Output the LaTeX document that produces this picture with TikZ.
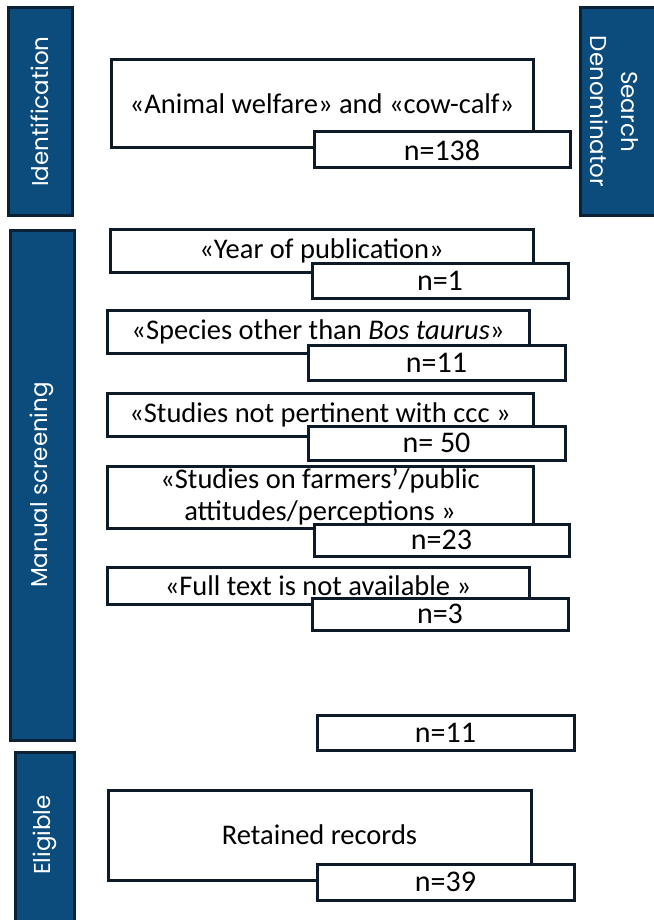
\documentclass[tikz,border=0pt]{standalone}
\usepackage{fontspec}
\setmainfont{Carlito}
\newfontfamily\labelfont{Poppins}
\definecolor{barblue}{HTML}{0B4C7C}
\definecolor{bardark}{HTML}{0B2236}
\definecolor{boxline}{HTML}{0D1A28}
\tikzset{
  bar/.style={draw=bardark, line width=3pt, fill=barblue, inner sep=0pt},
  barlabel/.style={text=white, align=center, inner sep=0pt, font=\labelfont\fontsize{23}{31}\selectfont},
  mainbox/.style={draw=boxline, line width=3pt, fill=white, font=\fontsize{28.5}{32}\selectfont, align=center, inner sep=0pt},
  countbox/.style={draw=boxline, line width=3pt, fill=white, font=\fontsize{30}{34}\selectfont, inner sep=0pt}
}
\begin{document}
\begin{tikzpicture}[x=1pt,y=-1pt]
\useasboundingbox (0,0) rectangle (653,920);
\fill[white] (0,0) rectangle (653,920);
% side bars
\node[bar, minimum width=64pt, minimum height=207pt] (id) at (40,111.5) {};
\node[barlabel, rotate=90] (idt) at (id.center) {Identification};
\node[bar, minimum width=76pt, minimum height=207pt] (sd) at (618,111.5) {};
\node[barlabel, rotate=-90] (sdt) at (614,111.5) {Search\\Denominator};
\node[bar, minimum width=64pt, minimum height=510pt] (ms) at (42,485) {};
\node[barlabel, rotate=90] (mst) at (ms.center) {Manual screening};
\node[bar, minimum width=59pt, minimum height=176pt] (el) at (44.5,840) {};
\node[barlabel, rotate=90] (elt) at (44.5,835) {Eligible};
% boxes
\node[mainbox, minimum width=422pt, minimum height=88pt] (b1) at (322,104) {«Animal welfare» and «cow-calf»};
\node[countbox, minimum width=256pt, minimum height=36pt] (n1) at (442,150) {n=138};
\node[mainbox, minimum width=423pt, minimum height=43pt] (b2) at (321.5,250.5) {«Year of publication»};
\node[countbox, minimum width=256pt, minimum height=35pt] (n2) at (440,280.5) {n=1};
\node[mainbox, minimum width=422pt, minimum height=43pt] (b3) at (318,331.5) {«Species other than \textit{Bos taurus}»};
\node[countbox, minimum width=257pt, minimum height=35pt] (n3) at (436.5,362.5) {n=11};
\node[mainbox, minimum width=426pt, minimum height=43pt] (b4) at (320,414.5) {«Studies not pertinent with ccc »};
\node[countbox, minimum width=257pt, minimum height=34pt] (n4) at (436.5,443) {n= 50};
\node[mainbox, minimum width=426pt, minimum height=62pt] (b5) at (320,497) {«Studies on farmers’/public\\attitudes/perceptions »};
\node[countbox, minimum width=255pt, minimum height=32pt] (n5) at (441.5,540) {n=23};
\node[mainbox, minimum width=422pt, minimum height=37pt] (b6) at (318,585.5) {«Full text is not available »};
\node[countbox, minimum width=256pt, minimum height=32pt] (n6) at (440,614) {n=3};
\node[countbox, minimum width=257pt, minimum height=35pt] (n7) at (445.5,732.5) {n=11};
\node[mainbox, minimum width=423pt, minimum height=90pt] (b8) at (319.5,835) {Retained records};
\node[countbox, minimum width=257pt, minimum height=36pt] (n8) at (445.5,882) {n=39};
\end{tikzpicture}
\end{document}
